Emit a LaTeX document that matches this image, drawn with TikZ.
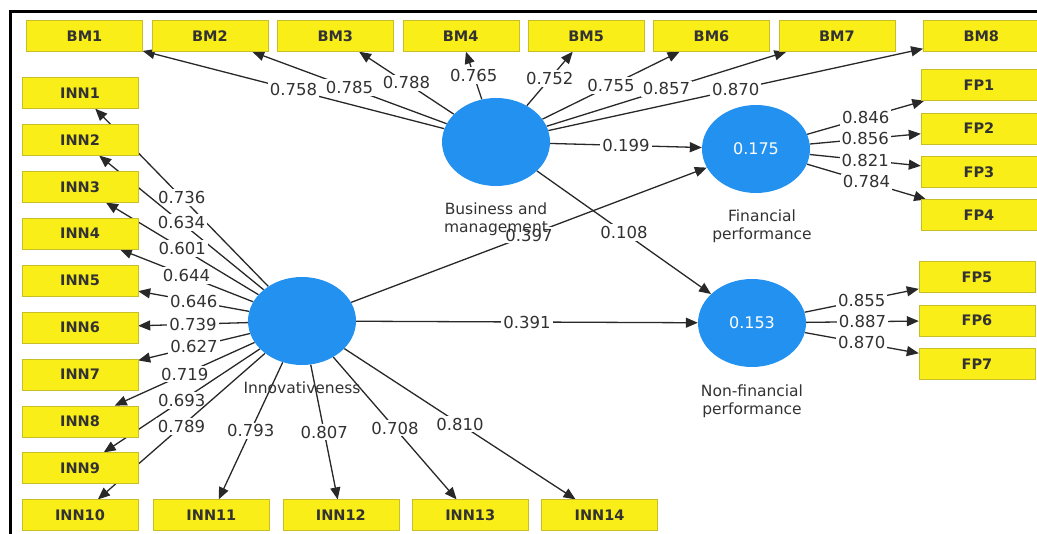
\documentclass[tikz,border=0pt]{standalone}
\usepackage{fontspec}
\setmainfont{DejaVu Sans}
\usetikzlibrary{arrows.meta, positioning, shapes.geometric}
\definecolor{plsyellow}{RGB}{250,238,25}
\definecolor{plsedge}{RGB}{200,190,40}
\definecolor{plsblue}{RGB}{35,145,240}
\definecolor{plsgray}{RGB}{50,50,50}
\definecolor{plsline}{RGB}{40,40,40}
\pgfdeclarelayer{front}
\pgfsetlayers{main,front}

\begin{document}
\begin{tikzpicture}[
    x=1pt, y=-1pt,
    node distance=9pt and 9pt,
    indicator/.style={rectangle, draw=plsedge, fill=plsyellow, minimum width=116pt, minimum height=31pt,
                inner sep=0pt, text=plsgray, font=\fontsize{14.5}{17}\selectfont\bfseries},
    latent/.style={ellipse, fill=plsblue, minimum width=108pt, minimum height=88pt, inner sep=0pt,
                text=white, font=\fontsize{16}{19}\selectfont},
    lvname/.style={align=center, text=plsgray, font=\fontsize{15.5}{18}\selectfont, inner sep=2pt},
    arrow/.style={-{Triangle[length=12pt,width=10pt]}, line width=1.3pt, draw=plsline},
    loading/.style={fill=white, inner sep=2pt, text=plsgray, font=\fontsize{16.5}{19}\selectfont}
]
\useasboundingbox (0,0) rectangle (1037,534);
\draw[line width=3pt] (10,534) -- (10,12) -- (1037,12);

\begin{pgfonlayer}{front}
% latent variables
\node[latent] (bmlv) at (496,142) {};
\node[latent] (innlv) at (302,321) {};
\node[latent] (finlv) at (756,149) {0.175};
\node[latent] (nflv) at (752,323) {0.153};
\node[lvname, below=14pt of bmlv] (bmname) {Business and\\management};
\node[lvname, below=14pt of innlv] (innname) {Innovativeness};
\node[lvname, below=14pt of finlv, xshift=6pt] (finname) {Financial\\performance};
\node[lvname, below=15pt of nflv] (nfname) {Non-financial\\performance};

% business and management items
\node[indicator] (bm1) at (84.5,36) {BM1};
\node[indicator, right=of bm1] (bm2) {BM2};
\node[indicator, right=of bm2] (bm3) {BM3};
\node[indicator, right=of bm3] (bm4) {BM4};
\node[indicator, right=of bm4] (bm5) {BM5};
\node[indicator, right=of bm5] (bm6) {BM6};
\node[indicator, right=of bm6] (bm7) {BM7};
\node[indicator, right=28pt of bm7] (bm8) {BM8};

% performance items
\node[indicator] (fp1) at (979,85) {FP1};
\node[indicator, below=12pt of fp1] (fp2) {FP2};
\node[indicator, below=12pt of fp2] (fp3) {FP3};
\node[indicator, below=12pt of fp3] (fp4) {FP4};
\node[indicator] (fp5) at (977,277) {FP5};
\node[indicator, below=12pt of fp5] (fp6) {FP6};
\node[indicator, below=12pt of fp6] (fp7) {FP7};

% innovativeness items
\node[indicator] (inn1) at (80,93) {INN1};
\node[indicator, below=15.5pt of inn1] (inn2) {INN2};
\node[indicator, below=15.5pt of inn2] (inn3) {INN3};
\node[indicator, below=15.5pt of inn3] (inn4) {INN4};
\node[indicator, below=15.5pt of inn4] (inn5) {INN5};
\node[indicator, below=15.5pt of inn5] (inn6) {INN6};
\node[indicator, below=15.5pt of inn6] (inn7) {INN7};
\node[indicator, below=15.5pt of inn7] (inn8) {INN8};
\node[indicator, below=15.5pt of inn8] (inn9) {INN9};
\node[indicator, below=15.5pt of inn9] (inn10) {INN10};
\node[indicator, right=15pt of inn10] (inn11) {INN11};
\node[indicator, right=13pt of inn11] (inn12) {INN12};
\node[indicator, right=13pt of inn12] (inn13) {INN13};
\node[indicator, right=13pt of inn13] (inn14) {INN14};
\end{pgfonlayer}

% outer loadings
\draw[arrow] (bmlv) -- node[loading] {0.758} (bm1);
\draw[arrow] (bmlv) -- node[loading] {0.785} (bm2);
\draw[arrow] (bmlv) -- node[loading] {0.788} (bm3);
\draw[arrow] (bmlv) -- node[loading] {0.765} (bm4);
\draw[arrow] (bmlv) -- node[loading] {0.752} (bm5);
\draw[arrow] (bmlv) -- node[loading] {0.755} (bm6);
\draw[arrow] (bmlv) -- node[loading] {0.857} (bm7);
\draw[arrow] (bmlv) -- node[loading] {0.870} (bm8);

\draw[arrow] (innlv) -- node[loading] {0.736} (inn1);
\draw[arrow] (innlv) -- node[loading] {0.634} (inn2);
\draw[arrow] (innlv) -- node[loading] {0.601} (inn3);
\draw[arrow] (innlv) -- node[loading] {0.644} (inn4);
\draw[arrow] (innlv) -- node[loading] {0.646} (inn5);
\draw[arrow] (innlv) -- node[loading] {0.739} (inn6);
\draw[arrow] (innlv) -- node[loading] {0.627} (inn7);
\draw[arrow] (innlv) -- node[loading] {0.719} (inn8);
\draw[arrow] (innlv) -- node[loading] {0.693} (inn9);
\draw[arrow] (innlv) -- node[loading] {0.789} (inn10);
\draw[arrow] (innlv) -- node[loading] {0.793} (inn11);
\draw[arrow] (innlv) -- node[loading] {0.807} (inn12);
\draw[arrow] (innlv) -- node[loading] {0.708} (inn13);
\draw[arrow] (innlv) -- node[loading] {0.810} (inn14);

\draw[arrow] (finlv) -- node[loading] {0.846} (fp1);
\draw[arrow] (finlv) -- node[loading] {0.856} (fp2);
\draw[arrow] (finlv) -- node[loading] {0.821} (fp3);
\draw[arrow] (finlv) -- node[loading] {0.784} (fp4);
\draw[arrow] (nflv) -- node[loading] {0.855} (fp5);
\draw[arrow] (nflv) -- node[loading] {0.887} (fp6);
\draw[arrow] (nflv) -- node[loading] {0.870} (fp7);

% path coefficients
\draw[arrow] (bmlv) -- node[loading] {0.199} (finlv);
\draw[arrow] (bmlv) -- node[loading] {0.108} (nflv);
\draw[arrow] (innlv) -- node[loading] {0.397} (finlv);
\draw[arrow] (innlv) -- node[loading] {0.391} (nflv);
\end{tikzpicture}
\end{document}
